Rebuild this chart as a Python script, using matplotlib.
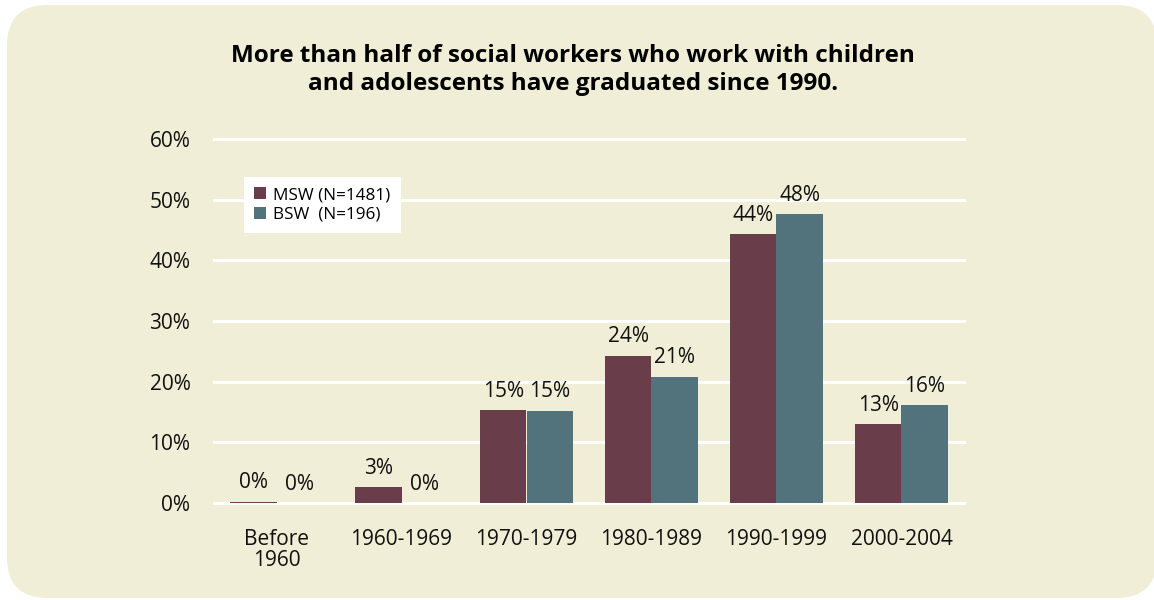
import matplotlib.pyplot as plt
import numpy as np
from matplotlib.patches import FancyBboxPatch, Patch

plt.rcParams['font.family'] = ['Open Sans', 'DejaVu Sans']

periods = ["Before\n1960", "1960-1969", "1970-1979", "1980-1989", "1990-1999", "2000-2004"]
msw = [0.2, 2.6, 15.3, 24.3, 44.3, 13.0]
bsw = [0.0, 0.0, 15.2, 20.8, 47.6, 16.1]
msw_label = "MSW (N=1481)"
bsw_label = "BSW  (N=196)"

msw_color = "#693D4A"
bsw_color = "#52727C"
panel_color = "#F0EED6"

fig = plt.figure(figsize=(11.54, 6), dpi=100)
fig.patch.set_facecolor("white")

# rounded beige panel behind everything
panel = FancyBboxPatch((7 / 1154, 2 / 600), 1150 / 1154, 593 / 600,
                       boxstyle="round,pad=0,rounding_size=0.035",
                       mutation_aspect=1154 / 600,
                       transform=fig.transFigure, facecolor=panel_color,
                       edgecolor="none", zorder=-10)
fig.patches.append(panel)

ax = fig.add_axes([214 / 1154, 97 / 600, 750 / 1154, 364 / 600])
ax.set_facecolor("none")

x = np.arange(len(periods))
w = 0.373
ax.bar(x - w / 2, msw, w, color=msw_color, zorder=3)
ax.bar(x + w / 2, bsw, w, color=bsw_color, zorder=3)

for xi, v in zip(x, msw):
    ax.annotate(f"{v:.0f}%", (xi - w / 2, v), xytext=(0, 6), textcoords="offset points",
                ha="center", va="bottom", fontsize=15, color="#111111")
for xi, v in zip(x, bsw):
    ax.annotate(f"{v:.0f}%", (xi + w / 2, v), xytext=(0, 6), textcoords="offset points",
                ha="center", va="bottom", fontsize=15, color="#111111")

ax.set_xlim(-0.5, 5.5)
ax.set_ylim(0, 60)
ax.set_yticks(range(0, 61, 10))
ax.set_yticklabels([f"{t}%" for t in range(0, 61, 10)])
ax.set_xticks(x)
ax.set_xticklabels(periods, linespacing=0.95)
ax.tick_params(axis="y", length=0, pad=17, labelsize=15, labelcolor="#111111")
ax.tick_params(axis="x", length=0, pad=19, labelsize=15, labelcolor="#111111")

for t in range(0, 61, 10):
    ax.axhline(t, color="white", lw=2.2, zorder=1, clip_on=False)
for s in ax.spines.values():
    s.set_visible(False)

handles = [Patch(facecolor=msw_color), Patch(facecolor=bsw_color)]
leg = ax.legend(handles, [msw_label, bsw_label], loc="upper left",
                bbox_to_anchor=(30 / 750, 1 - 38 / 364), frameon=True, fancybox=False,
                fontsize=12.3, handlelength=0.7, handleheight=0.7, handletextpad=0.4,
                labelspacing=0.2, borderpad=0.6, borderaxespad=0)
leg.get_frame().set_facecolor("white")
leg.get_frame().set_edgecolor("none")
leg.get_frame().set_alpha(1)
leg.set_zorder(5)

fig.text(573 / 1154, 1 - 70 / 600,
         "More than half of social workers who work with children\n"
         "and adolescents have graduated since 1990.",
         ha="center", va="center", fontsize=17.5, fontweight="bold",
         linespacing=1.25, color="black")

fig.savefig("out.png", dpi=100, facecolor=fig.get_facecolor())
